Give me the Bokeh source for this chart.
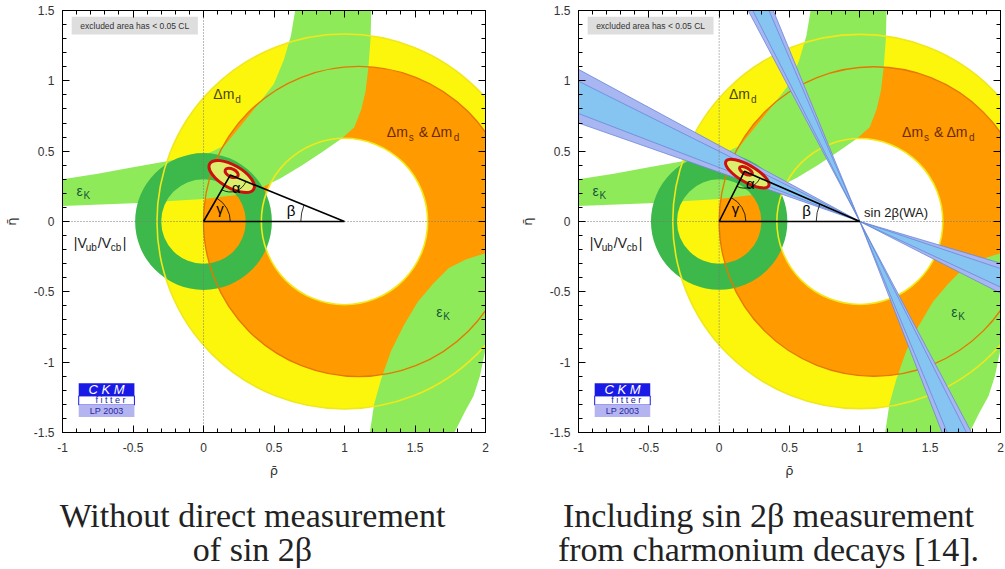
import math
from bokeh.plotting import figure
from bokeh.layouts import row, column
from bokeh.models import (Range1d, LinearAxis, SingleIntervalTicker,
                          NumeralTickFormatter, CustomJSTickFormatter)
from bokeh.core.properties import value
from bokeh.embed import file_html
from bokeh.resources import INLINE

# ------------------------------------------------------------------ data
rho_range = [-1.0, 2.0]
eta_range = [-1.5, 1.5]

# Delta m_d band (yellow): centre and inner/outer radius
dmd_center = [1.0, 0.0]
dmd_radii = [0.59, 1.33]
# Delta m_s & Delta m_d band (orange): outer circle, inner hole shared with dmd
dms_center = [1.10, 0.0]
dms_radius = 1.10
# |Vub/Vcb| ring (dark green)
vub_center = [0.0, 0.0]
vub_radii = [0.30, 0.485]

# eps_K band, upper branch: outer (upper-left) and inner (lower-right) edges
epsk_up_outer_rho = [-1.0, -0.75, -0.5, -0.25, 0.0, 0.15, 0.28, 0.4, 0.5, 0.57, 0.62, 0.65]
epsk_up_outer_eta = [0.30, 0.34, 0.385, 0.43, 0.47, 0.54, 0.70, 0.85, 0.98, 1.15, 1.32, 1.50]
epsk_up_inner_rho = [1.19, 1.185, 1.17, 1.15, 1.12, 1.07, 0.98, 0.85, 0.7, 0.55, 0.4, 0.25, 0.0, -0.5, -1.0]
epsk_up_inner_eta = [1.50, 1.30, 1.10, 0.93, 0.80, 0.67, 0.59, 0.50, 0.40, 0.31, 0.235, 0.19, 0.16, 0.13, 0.11]
# eps_K band, lower branch
epsk_lo_inner_rho = [1.18, 1.21, 1.26, 1.33, 1.42, 1.52, 1.63, 1.74, 1.86, 2.0]
epsk_lo_inner_eta = [-1.5, -1.30, -1.12, -0.92, -0.74, -0.57, -0.44, -0.33, -0.27, -0.225]
epsk_lo_outer_rho = [1.78, 1.85, 1.915, 1.96, 2.0]
epsk_lo_outer_eta = [-1.5, -1.36, -1.24, -1.10, -0.91]

# global fit contours: x, y, semi-axis a, semi-axis b, angle (deg)
fit_left_outer = [0.20, 0.32, 0.18, 0.08, -30]
fit_left_inner = [0.20, 0.345, 0.05, 0.028, -25]
fit_right_outer = [0.20, 0.34, 0.175, 0.06, -30]
fit_right_inner = [0.19, 0.36, 0.05, 0.022, -28]
# unitarity triangle apex
apex_left = [0.19, 0.33]
apex_right = [0.18, 0.357]

# sin2beta (WA) bands through the vertex: each arm = (base angle, sign,
# beta range 2 sigma [deg], beta range 1 sigma [deg])
sin2b_vertex = [1.0, 0.0]
s2b_arm_base = [180, 0, 90, -90]
s2b_arm_sign = [-1, -1, 1, 1]
s2b_arm_2sigma = [[19.3, 28.4], [16.5, 27.0], [22.3, 27.9], [21.3, 27.9]]
s2b_arm_1sigma = [[21.0, 26.5], [18.5, 25.0], [23.3, 26.9], [22.5, 26.8]]

# captions
caption_left = ["Without direct measurement", "of sin 2β"]
caption_right = ["Including sin 2β measurement", "from charmonium decays [14]."]

# ------------------------------------------------------------------ colours
YELLOW = "#fcf60c"
ORANGE = "#ff9a00"
LGREEN = "#8fea5a"
DGREEN = "#3cb94a"
YLINE = "#f0e81a"
OLINE = "#e57800"
RED = "#cc1010"
FITFILL = "#dcef6c"
BLUE_OUT = "#a8b6f2"
BLUE_IN = "#86c4f2"
BLUE_EDGE = "#6a88d8"

SANS = "Liberation Sans"
R = math.radians

PANEL_H = 489      # figure height holding the plot
CAP_H = 80         # caption strip height


def add_text(p, pieces, x, y):
    """pieces: list of (text, size_px, color, dx_px, dy_px)"""
    for txt, size, col, dx, dy in pieces:
        p.text(x=[x], y=[y], text=[txt], x_offset=dx, y_offset=dy,
               text_font=value(SANS), text_font_size=f"{size}px",
               text_color=col, text_align="left", text_baseline="middle")


def make_panel(with_s2b, fit_outer, fit_inner, apex, border_left, border_right,
               frame_w):
    p = figure(x_range=Range1d(*rho_range), y_range=Range1d(*eta_range),
               frame_width=frame_w, frame_height=422,
               min_border_left=border_left, min_border_right=border_right,
               min_border_top=10, min_border_bottom=PANEL_H - 432,
               toolbar_location=None, output_backend="svg",
               x_axis_label="ρ̄", y_axis_label="η̄", frame_align=False)
    p.title.visible = False
    p.grid.visible = False
    p.outline_line_color = "black"
    p.outline_line_width = 1
    p.background_fill_color = "white"
    p.border_fill_color = "white"

    for ax in (p.xaxis[0], p.yaxis[0]):
        ax.ticker = SingleIntervalTicker(interval=0.5, num_minor_ticks=5)
        ax.formatter = NumeralTickFormatter(format="0.[0]")
        ax.major_tick_in = 7
        ax.major_tick_out = 0
        ax.minor_tick_in = 4
        ax.minor_tick_out = 0
        ax.axis_line_color = "black"
        ax.major_label_text_font = SANS
        ax.major_label_text_font_size = "12px"
        ax.major_label_text_color = "#333333"
        ax.axis_label_text_font = "DejaVu Sans"
        ax.axis_label_text_font_size = "13px"
        ax.axis_label_text_font_style = "normal"
        ax.axis_label_text_color = "#333333"
    p.xaxis[0].major_label_standoff = 10
    p.xaxis[0].axis_label_standoff = 8
    p.yaxis[0].major_label_standoff = 8
    p.yaxis[0].axis_label_standoff = 12

    for side in ("above", "right"):
        ax = LinearAxis(ticker=SingleIntervalTicker(interval=0.5, num_minor_ticks=5),
                        formatter=CustomJSTickFormatter(code="return ''"),
                        major_tick_in=7, major_tick_out=0, minor_tick_in=4,
                        minor_tick_out=0, major_label_standoff=0,
                        axis_line_color="black")
        p.add_layout(ax, side)

    # --- Delta m_d (yellow) and Delta m_s (orange) bands
    p.circle(x=[dmd_center[0]], y=[dmd_center[1]], radius=dmd_radii[1],
             fill_color=YELLOW, line_color=None)
    p.circle(x=[dms_center[0]], y=[dms_center[1]], radius=dms_radius,
             fill_color=ORANGE, line_color=None)
    p.circle(x=[dmd_center[0]], y=[dmd_center[1]], radius=dmd_radii[0],
             fill_color="white", line_color=None)

    # --- eps_K band
    p.patch(epsk_up_outer_rho + epsk_up_inner_rho,
            epsk_up_outer_eta + epsk_up_inner_eta,
            fill_color=LGREEN, line_color=None)
    p.patch(epsk_lo_inner_rho + epsk_lo_outer_rho[::-1],
            epsk_lo_inner_eta + epsk_lo_outer_eta[::-1],
            fill_color=LGREEN, line_color=None)

    # --- |Vub/Vcb| ring
    p.annulus(x=[vub_center[0]], y=[vub_center[1]],
              inner_radius=vub_radii[0], outer_radius=vub_radii[1],
              fill_color=DGREEN, line_color=None)

    # --- contour lines of the mixing constraints
    p.circle(x=[dmd_center[0]] * 2, y=[dmd_center[1]] * 2, radius=dmd_radii,
             fill_color=None, line_color=YLINE, line_width=1.6)
    p.circle(x=[dms_center[0]], y=[dms_center[1]], radius=dms_radius,
             fill_color=None, line_color=OLINE, line_width=1.4)

    # --- sin 2beta bands
    if with_s2b:
        vx, vy = sin2b_vertex
        edges = []
        for ranges, col in ((s2b_arm_2sigma, BLUE_OUT), (s2b_arm_1sigma, BLUE_IN)):
            starts, ends = [], []
            for base, sgn, (lo, hi) in zip(s2b_arm_base, s2b_arm_sign, ranges):
                a1, a2 = base + sgn * lo, base + sgn * hi
                starts.append(R(min(a1, a2)))
                ends.append(R(max(a1, a2)))
                edges += [R(a1), R(a2)]
            p.wedge(x=[vx] * 4, y=[vy] * 4, radius=4.5, start_angle=starts,
                    end_angle=ends, fill_color=col, line_color=None)
        p.ray(x=[vx] * len(edges), y=[vy] * len(edges), length=0,
              angle=edges, line_color=BLUE_EDGE, line_width=0.8)

    # --- axes through origin (dotted)
    p.line(x=rho_range, y=[0, 0], line_color="#777777", line_dash="1 2", line_width=1)
    p.line(x=[0, 0], y=eta_range, line_color="#777777", line_dash="1 2", line_width=1)

    # --- global fit
    for (cx, cy, a, b, ang), fill in ((fit_outer, FITFILL), (fit_inner, None)):
        p.ellipse(x=[cx], y=[cy], width=2 * a, height=2 * b, angle=R(ang),
                  fill_color=fill, line_color=RED, line_width=3)

    # --- unitarity triangle
    ax_, ay_ = apex
    p.line(x=[0, ax_, 1, 0], y=[0, ay_, 0, 0], line_color="black", line_width=1.6)
    gam = math.degrees(math.atan2(ay_, ax_))
    bet = math.degrees(math.atan2(ay_, 1 - ax_))
    p.arc(x=[0], y=[0], radius=0.19, start_angle=0, end_angle=R(gam),
          line_color="black", line_width=0.8)
    p.arc(x=[1], y=[0], radius=0.31, start_angle=R(180 - bet), end_angle=R(180),
          line_color="black", line_width=0.8)
    p.arc(x=[ax_], y=[ay_], radius=0.12, start_angle=R(180 + gam),
          end_angle=R(360 - bet), line_color="black", line_width=0.8)

    # --- labels
    add_text(p, [("γ", 15, "black", 0, 0)], 0.09, 0.09)
    add_text(p, [("α", 15, "black", 0, 0)], ax_ + 0.01, ay_ - 0.09)
    add_text(p, [("β", 15, "black", 0, 0)], 0.59, 0.08)
    add_text(p, [("Δm", 14, "#4a4418", 0, 0), ("d", 10, "#4a4418", 22, 5)], 0.07, 0.905)
    add_text(p, [("Δm", 14, "#6a2a08", 0, 0), ("s", 10, "#6a2a08", 22, 5),
                 ("& Δm", 14, "#6a2a08", 32, 0), ("d", 10, "#6a2a08", 67, 5)], 1.30, 0.635)
    add_text(p, [("ε", 14, "#185838", 0, 0), ("K", 10, "#185838", 7, 5)], -0.9, 0.22)
    add_text(p, [("ε", 14, "#185838", 0, 0), ("K", 10, "#185838", 7, 5)], 1.65, -0.64)
    add_text(p, [("|V", 14, "#1a1a1a", 0, 0), ("ub", 10, "#1a1a1a", 12, 5),
                 ("/V", 14, "#1a1a1a", 24, 0), ("cb", 10, "#1a1a1a", 37, 5),
                 ("|", 14, "#1a1a1a", 49, 0)], -0.92, -0.15)
    if with_s2b:
        add_text(p, [("sin 2β(WA)", 13, "#1a1a1a", 0, 0)], 1.03, 0.065)

    # --- excluded-area box
    p.quad(left=[-0.935], right=[-0.04], bottom=[1.33], top=[1.455],
           fill_color="#dedede", line_color=None)
    p.text(x=[-0.4875], y=[1.3925], text=["excluded area has < 0.05 CL"],
           text_font=value(SANS), text_font_size="8.5px", text_color="#333333",
           text_align="center", text_baseline="middle")

    # --- CKMfitter logo
    p.quad(left=[-0.885], right=[-0.49], bottom=[-1.24], top=[-1.15],
           fill_color="#1a1ae6", line_color=None)
    p.quad(left=[-0.885], right=[-0.49], bottom=[-1.305], top=[-1.24],
           fill_color="white", line_color="#1a1ae6", line_width=1)
    p.quad(left=[-0.885], right=[-0.49], bottom=[-1.39], top=[-1.305],
           fill_color="#b4b4f0", line_color=None)
    p.text(x=[-0.6875], y=[-1.195], text=["C K M"], text_font=value(SANS),
           text_font_size="13px", text_font_style="italic", text_color="white",
           text_align="center", text_baseline="middle")
    p.text(x=[-0.66], y=[-1.272], text=["f i t t e r"], text_font=value(SANS),
           text_font_size="9px", text_color="#1a1a9a",
           text_align="center", text_baseline="middle")
    p.text(x=[-0.6875], y=[-1.347], text=["LP 2003"], text_font=value(SANS),
           text_font_size="9px", text_color="#2a2aa0",
           text_align="center", text_baseline="middle")
    return p


def make_caption(lines, width, center_x):
    c = figure(x_range=Range1d(0, width), y_range=Range1d(0, CAP_H),
               frame_width=width, frame_height=CAP_H, min_border=0,
               x_axis_type=None, y_axis_type=None, toolbar_location=None,
               output_backend="svg", frame_align=False)
    c.title.visible = False
    c.grid.visible = False
    c.outline_line_color = None
    c.text(x=[center_x] * len(lines), y=[54, 20], text=lines,
           text_font=value("Liberation Serif"), text_font_size="34px",
           text_color="#222222", text_align="center", text_baseline="alphabetic")
    return c


left = make_panel(False, fit_left_outer, fit_left_inner, apex_left, 61, 16, 423)
right = make_panel(True, fit_right_outer, fit_right_inner, apex_right, 77, 6, 422)
cap_l = make_caption(caption_left, 500, 252)
cap_r = make_caption(caption_right, 505, 267)

layout = row(column(left, cap_l, spacing=0), column(right, cap_r, spacing=0), spacing=0)
open("out.html", "w").write(file_html(layout, INLINE))
